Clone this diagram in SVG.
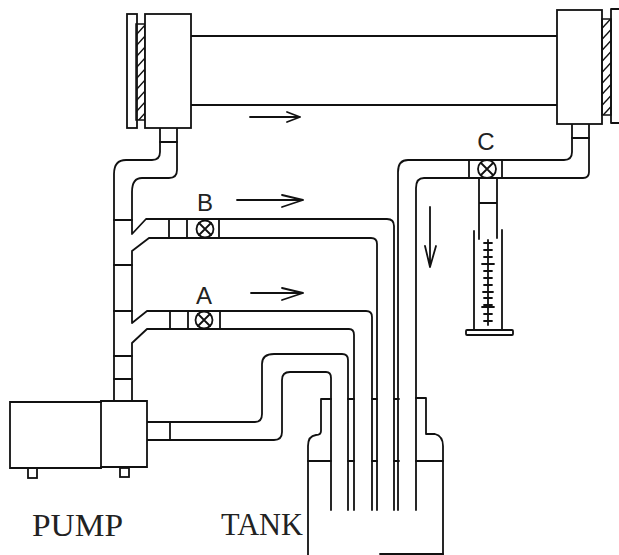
<svg xmlns="http://www.w3.org/2000/svg" width="619" height="555" viewBox="0 0 619 555">
<style>
.l{fill:none;stroke:#111;stroke-width:1.8;stroke-linejoin:round;stroke-linecap:round}
.h{fill:url(#hatch);stroke:#111;stroke-width:1.5}
.c{fill:#fff;stroke:#111;stroke-width:1.8}
.a{fill:none;stroke:#111;stroke-width:1.8;stroke-linecap:round;stroke-linejoin:round}
.s{font-family:"Liberation Sans",Arial,sans-serif;font-size:24px;fill:#222;text-anchor:middle}
.t{font-family:"Liberation Serif","Times New Roman",serif;font-size:31px;fill:#222}
</style>
<defs>
<pattern id="hatch" width="10" height="11" patternUnits="userSpaceOnUse" patternTransform="translate(136 24)">
<path d="M-1 12.1 L11 -1.1 M-1 1.1 L1 -1.1 M9 12.1 L11 9.9" stroke="#111" stroke-width="1.5" fill="none"/>
</pattern>
</defs>
<rect width="619" height="555" fill="#fff"/>
<g id="connectors">
<path class="l" d="M191 36 H557 M191 105 H557"/>
<path class="l" d="M160 128 V152 Q160 160 152 160 H126 Q114 160 114 174 V401"/>
<path class="l" d="M177 128 V170 Q177 178 169 178 H142 Q132 178 132 192 V234 L146 219 H387 Q394 219 394 226 V510"/>
<path class="l" d="M160 142 H177"/>
<path class="l" d="M149 238 H371 Q377 238 377 244 V510 M149 238 L132 251 V323 L147 311 H366 Q372 311 372 317 V510"/>
<path class="l" d="M147 329 H349 Q354 329 354 335 V510 M147 329 L132 343 V401"/>
<path class="l" d="M114 220 H132 M114 265 H132 M114 311 H132 M114 356 H132 M114 379 H132"/>
<path class="l" d="M147 422 H255 Q262 422 262 414 V364 Q262 354 274 354 H342 Q348 354 348 360 V510"/>
<path class="l" d="M147 440 H274 Q282 440 282 432 V380 Q282 372 290 372 H326 Q331 372 331 378 V510"/>
<path class="l" d="M170 422 V440"/>
<path class="l" d="M572 124 V152 Q572 160 564 160 H408 Q398 160 398 172 V510"/>
<path class="l" d="M589 124 V172 Q589 178 583 178 H424 Q416 178 416 188 V510"/>
<path class="l" d="M572 138 H589"/>
<path class="l" d="M348 399 H354 M372 399 H377 M394 399 H399 M348 461 H354 M372 461 H377 M394 461 H399"/>
<path class="l" d="M479 178 V239 M497 178 V238 M479 203 H497"/>
</g>
<g id="arrows">
<path class="a" d="M250 117 H300 M287 112 L300 117 L287 122"/>
<path class="a" d="M237 200 H303 M282 195 L303 200 L282 207"/>
<path class="a" d="M251 293 H303 M282 288 L303 293 L282 300"/>
<path class="a" d="M430 207 V267 M425 246 L430 267 L436 246"/>
</g>
<g id="left-header">
<rect class="c" x="127" y="14" width="10" height="114"/>
<rect class="h" x="136" y="24" width="9" height="96"/>
<rect class="c" x="145" y="14" width="46" height="114"/>
</g>
<g id="right-header">
<rect class="c" x="557" y="10" width="45" height="114"/>
<rect class="h" x="602" y="19" width="9" height="96"/>
<path class="l" d="M619 9 H611 V123 H619"/>
</g>
<g id="valve-b">
<path class="l" d="M169 219 V238 M187 219 V238 M219 219 V238"/>
<circle class="c" cx="205" cy="229" r="8.5"/>
<path class="l" d="M199 223 L211 235 M211 223 L199 235"/>
<text class="s" x="205" y="211">B</text>
</g>
<g id="valve-a">
<path class="l" d="M170 311 V329 M188 311 V329 M220 311 V329"/>
<circle class="c" cx="204" cy="320" r="8.5"/>
<path class="l" d="M198 314 L210 326 M210 314 L198 326"/>
<text class="s" x="204" y="304">A</text>
</g>
<g id="valve-c">
<path class="l" d="M469 160 V178 M502 160 V178"/>
<circle class="c" cx="487" cy="169" r="9"/>
<path class="l" d="M481 163 L493 175 M493 163 L481 175"/>
<text class="s" x="486" y="150">C</text>
</g>
<g id="cylinder">
<path class="l" d="M474 231 V329 M502 230 V329"/>
<rect class="c" x="466" y="330" width="47" height="5" rx="1"/>
<path class="a" d="M488 240 V325 M484 243 H492 M484 250 H492 M484 257 H492 M482 264 H494 M484 271 H492 M484 278 H492 M484 285 H492 M483 292 H493 M484 298 H492 M484 305 H492 M482 307 H494 M484 314 H492 M484 321 H492"/>
</g>
<g id="pump">
<rect class="c" x="28" y="468" width="9" height="10"/>
<rect class="c" x="120" y="468" width="9" height="9"/>
<path class="c" d="M10 402 H101 V401 H147 V467 H101 V468 H10 Z"/>
<path class="l" d="M101 401 V468"/>
<text class="t" x="32" y="536" textLength="91" lengthAdjust="spacingAndGlyphs">PUMP</text>
</g>
<g id="tank">
<path class="l" d="M331 399 H321 V431 Q321 435 316 435 Q308 436 308 446 V555"/>
<path class="l" d="M416 398 H426 V434 H435 Q443 436 443 446 V555"/>
<path class="l" d="M308 461 H331 M416 461 H443 M380 554 H443"/>
<text class="t" x="221" y="535" textLength="82" lengthAdjust="spacingAndGlyphs">TANK</text>
</g>
</svg>
